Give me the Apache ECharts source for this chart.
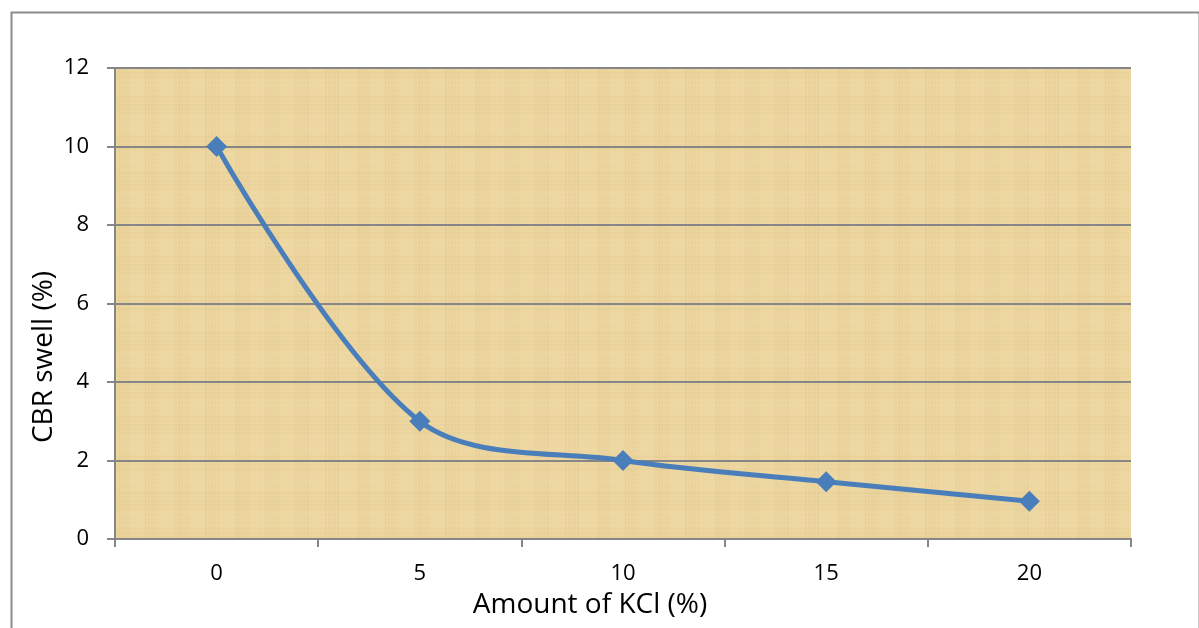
<!DOCTYPE html>
<html>
<head>
<meta charset="utf-8">
<script src="https://cdn.jsdelivr.net/npm/echarts@6/dist/echarts.min.js"></script>
<style>
html,body{margin:0;padding:0;background:#fff;}
#chart{width:1199px;height:628px;}
</style>
</head>
<body>
<div id="chart"></div>
<script>
var categories = ['0', '5', '10', '15', '20'];
var swellValues = [10, 3, 2, 1.46, 0.96];
var yTicks = [0, 2, 4, 6, 8, 10, 12];

// papyrus-like background texture (decorative, deterministic)
function makeTexture() {
  var c = document.createElement('canvas');
  c.width = 240; c.height = 160;
  var g = c.getContext('2d');
  g.fillStyle = '#ecd59f';
  g.fillRect(0, 0, 240, 160);
  for (var x = 0; x < 240; x += 3) {
    var a = 0.05 + 0.05 * Math.abs(Math.sin(x * 0.37) * Math.cos(x * 0.11));
    g.fillStyle = (Math.sin(x * 0.21) > 0) ? 'rgba(205,172,100,' + a + ')' : 'rgba(252,238,195,' + a + ')';
    g.fillRect(x, 0, 2, 160);
  }
  for (var y = 0; y < 160; y += 4) {
    var b = 0.04 + 0.04 * Math.abs(Math.sin(y * 0.29));
    g.fillStyle = (Math.cos(y * 0.17) > 0) ? 'rgba(208,175,105,' + b + ')' : 'rgba(252,240,200,' + b + ')';
    g.fillRect(0, y, 240, 2);
  }
  return c;
}

var chart = echarts.init(document.getElementById('chart'));
var font = '"Open Sans", "Liberation Sans", sans-serif';
chart.setOption({
  animation: false,
  backgroundColor: '#ffffff',
  graphic: [
    { type: 'rect', left: 9, top: 10, z: -2, shape: { width: 1188, height: 630 },
      style: { fill: 'none', stroke: '#8c8c8c', lineWidth: 2 }, silent: true },
    { type: 'rect', left: 115, top: 68, z: -1, shape: { width: 1016, height: 471 },
      style: { fill: { image: makeTexture(), repeat: 'repeat' } }, silent: true },
    { type: 'text', x: 590, y: 605, style: { text: 'Amount of KCl (%)', font: '28px ' + font, fill: '#000', align: 'center', verticalAlign: 'middle' }, silent: true },
    { type: 'text', x: 44, y: 357, rotation: Math.PI / 2, style: { text: 'CBR swell (%)', font: '28px ' + font, fill: '#000', align: 'center', verticalAlign: 'middle' }, silent: true }
  ],
  grid: { left: 115, right: 68, top: 68, bottom: 89, show: false },
  xAxis: {
    type: 'category',
    data: categories,
    boundaryGap: true,
    axisLine: { lineStyle: { color: '#868686', width: 2 } },
    axisTick: { show: true, length: 8, lineStyle: { color: '#868686', width: 2 } },
    axisLabel: { color: '#000', fontSize: 22, fontFamily: font, margin: 24 },
    splitLine: { show: false }
  },
  yAxis: {
    type: 'value',
    min: yTicks[0], max: yTicks[yTicks.length - 1], interval: 2,
    axisLine: { show: true, lineStyle: { color: '#868686', width: 2 } },
    axisTick: { show: true, length: 8, lineStyle: { color: '#868686', width: 2 } },
    axisLabel: { color: '#000', fontSize: 22, fontFamily: font, margin: 26 },
    splitLine: { show: true, lineStyle: { color: '#868686', width: 2 } }
  },
  series: [{
    type: 'line',
    data: swellValues,
    smooth: 0.33,
    symbol: 'diamond',
    symbolSize: 21,
    itemStyle: { color: '#4a7ebb' },
    lineStyle: { color: '#4a7ebb', width: 5 }
  }]
});
</script>
</body>
</html>
